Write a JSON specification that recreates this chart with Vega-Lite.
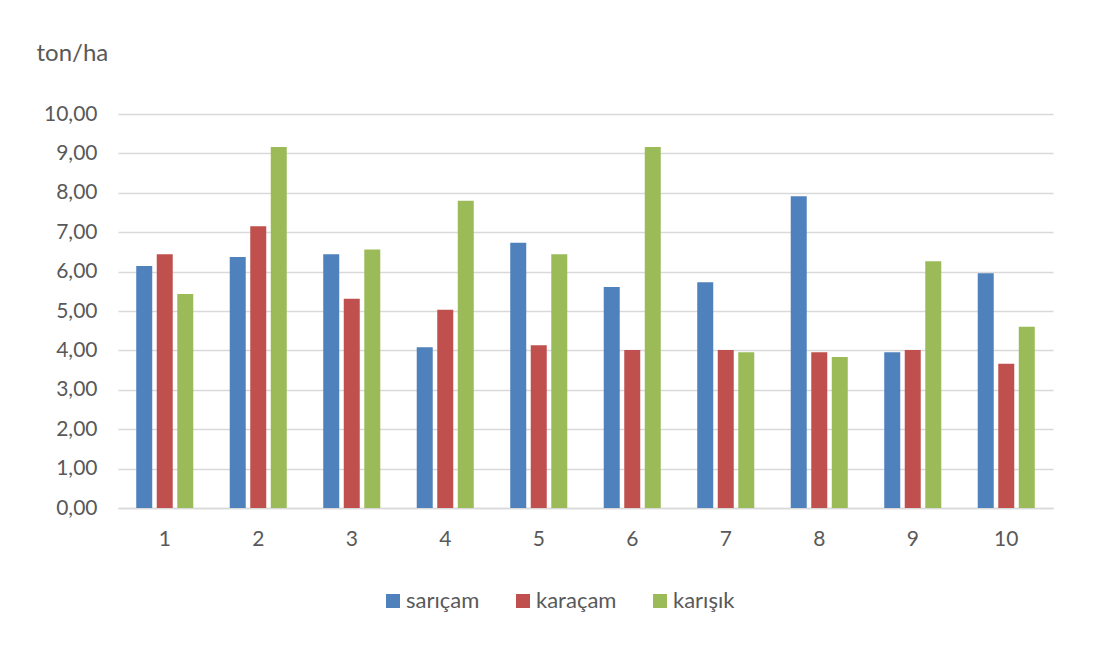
{
  "$schema": "https://vega.github.io/schema/vega-lite/v6.json",
  "width": 935,
  "height": 394,
  "autosize": {"type": "none"},
  "padding": {"left": 118, "top": 114, "right": 46, "bottom": 139},
  "background": "#ffffff",
  "data": {
    "values": [
      {"grup": "1", "tur": "sarıçam", "deger": 6.14},
      {"grup": "1", "tur": "karaçam", "deger": 6.44},
      {"grup": "1", "tur": "karışık", "deger": 5.43},
      {"grup": "2", "tur": "sarıçam", "deger": 6.37},
      {"grup": "2", "tur": "karaçam", "deger": 7.15},
      {"grup": "2", "tur": "karışık", "deger": 9.16},
      {"grup": "3", "tur": "sarıçam", "deger": 6.44},
      {"grup": "3", "tur": "karaçam", "deger": 5.31},
      {"grup": "3", "tur": "karışık", "deger": 6.56},
      {"grup": "4", "tur": "sarıçam", "deger": 4.08},
      {"grup": "4", "tur": "karaçam", "deger": 5.03},
      {"grup": "4", "tur": "karışık", "deger": 7.80},
      {"grup": "5", "tur": "sarıçam", "deger": 6.73},
      {"grup": "5", "tur": "karaçam", "deger": 4.13},
      {"grup": "5", "tur": "karışık", "deger": 6.44},
      {"grup": "6", "tur": "sarıçam", "deger": 5.61},
      {"grup": "6", "tur": "karaçam", "deger": 4.01},
      {"grup": "6", "tur": "karışık", "deger": 9.16},
      {"grup": "7", "tur": "sarıçam", "deger": 5.73},
      {"grup": "7", "tur": "karaçam", "deger": 4.01},
      {"grup": "7", "tur": "karışık", "deger": 3.95},
      {"grup": "8", "tur": "sarıçam", "deger": 7.91},
      {"grup": "8", "tur": "karaçam", "deger": 3.95},
      {"grup": "8", "tur": "karışık", "deger": 3.83},
      {"grup": "9", "tur": "sarıçam", "deger": 3.95},
      {"grup": "9", "tur": "karaçam", "deger": 4.01},
      {"grup": "9", "tur": "karışık", "deger": 6.26},
      {"grup": "10", "tur": "sarıçam", "deger": 5.96},
      {"grup": "10", "tur": "karaçam", "deger": 3.66},
      {"grup": "10", "tur": "karışık", "deger": 4.60}
    ]
  },
  "mark": {"type": "bar"},
  "encoding": {
    "x": {
      "field": "grup",
      "type": "ordinal",
      "sort": ["1","2","3","4","5","6","7","8","9","10"],
      "scale": {"paddingInner": 0.39, "paddingOuter": 0.195},
      "axis": {
        "title": null,
        "labelAngle": 0,
        "ticks": false,
        "domainColor": "#d9d9d9",
        "domainWidth": 1.5,
        "labelPadding": 20,
        "labelFont": "Lato",
        "labelFontSize": 21,
        "labelColor": "#595959"
      }
    },
    "xOffset": {
      "field": "tur",
      "type": "nominal",
      "sort": ["sarıçam", "karaçam", "karışık"],
      "scale": {"paddingInner": 0.22, "paddingOuter": 0}
    },
    "y": {
      "field": "deger",
      "type": "quantitative",
      "scale": {"domain": [0, 10], "nice": false},
      "axis": {
        "title": "ton/ha",
        "titleAngle": 0,
        "titleX": -82,
        "titleY": -54,
        "titleAlign": "left",
        "titleBaseline": "alphabetic",
        "titleFont": "Lato",
        "titleFontSize": 24,
        "titleFontWeight": "normal",
        "titleColor": "#595959",
        "values": [0,1,2,3,4,5,6,7,8,9,10],
        "labelExpr": "replace(format(datum.value, '.2f'), '.', ',')",
        "domain": false,
        "ticks": false,
        "labelPadding": 21,
        "labelFont": "Lato",
        "labelFontSize": 21,
        "labelColor": "#595959",
        "gridColor": "#d9d9d9",
        "gridWidth": 1.5
      }
    },
    "color": {
      "field": "tur",
      "type": "nominal",
      "scale": {
        "domain": ["sarıçam", "karaçam", "karışık"],
        "range": ["#4F81BD", "#C0504D", "#9BBB59"]
      },
      "legend": {
        "title": null,
        "orient": "none",
        "legendX": 264,
        "legendY": 476,
        "direction": "horizontal",
        "symbolType": "square",
        "symbolSize": 196,
        "symbolStrokeWidth": 0,
        "labelOffset": 2,
        "columnPadding": 32,
        "labelFont": "Lato",
        "labelFontSize": 22,
        "labelColor": "#595959"
      }
    }
  },
  "config": {
    "view": {"stroke": null}
  }
}
